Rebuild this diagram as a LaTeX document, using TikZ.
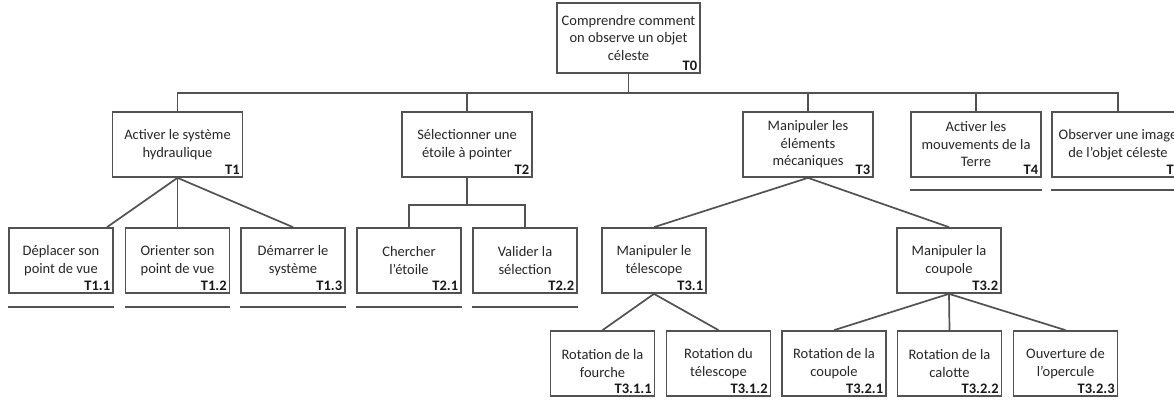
\documentclass[tikz,border=0pt]{standalone}
\usepackage{fontspec}
\setmainfont{Carlito}
\begin{document}
\begin{tikzpicture}[x=1pt,y=-1pt,
  line/.style={draw=black!68, line width=1.7pt},
  box/.style={line, rectangle, inner sep=0pt, align=center, font=\fontsize{14.5}{17.5}\selectfont, text=black!85},
  big/.style={box, minimum width=130pt, minimum height=65pt},
  small/.style={box, minimum width=104pt, minimum height=65pt},
  lab/.style={anchor=south east, inner sep=0pt, font=\fontsize{14.5}{17.5}\selectfont\bfseries, text=black!90},
  uline/.style={line}
]
\useasboundingbox (0,0) rectangle (1174,407);
\clip (0,0) rectangle (1174,407);
% level 0
\node[box, minimum width=143pt, minimum height=70pt] (t0) at (628.5,38) {Comprendre comment\\on observe un objet\\céleste};
% level 1
\node[big] (t1) at (177.5,144.5) {Activer le système\\hydraulique};
\node[big] (t2) at (467,144.5) {Sélectionner une\\étoile à pointer};
\node[big] (t3) at (808,144.5) {Manipuler les\\éléments\\mécaniques};
\node[big] (t4) at (976,144.5) {Activer les\\mouvements de la\\Terre};
\node[big, minimum width=132pt] (t5) at (1118,144.5) {Observer une image\\de l’objet céleste};
% level 2
\node[small] (t11) at (61,260.5) {Déplacer son\\point de vue};
\node[small] (t12) at (177.5,260.5) {Orienter son\\point de vue};
\node[small] (t13) at (293,260.5) {Démarrer le\\système};
\node[small] (t21) at (409,260.5) {Chercher\\l’étoile};
\node[small] (t22) at (525,260.5) {Valider la\\sélection};
\node[small] (t31) at (654,260.5) {Manipuler le\\télescope};
\node[small] (t32) at (949,260.5) {Manipuler la\\coupole};
% level 3
\node[small] (t311) at (602.5,363.5) {Rotation de la\\fourche};
\node[small] (t312) at (718.5,363.5) {Rotation du\\télescope};
\node[small] (t321) at (834,363.5) {Rotation de la\\coupole};
\node[small] (t322) at (949.5,363.5) {Rotation de la\\calotte};
\node[small] (t323) at (1065.5,363.5) {Ouverture de\\l’opercule};
% labels
\foreach \n/\t in {t0/T0,t1/T1,t2/T2,t3/T3,t4/T4,t5/T5,t11/T1.1,t12/T1.2,t13/T1.3,t21/T2.1,t22/T2.2,t31/T3.1,t32/T3.2,t311/T3.1.1,t312/T3.1.2,t321/T3.2.1,t322/T3.2.2,t323/T3.2.3}
  \node[lab] (l\n) at ([xshift=-3.5pt,yshift=3pt]\n.south east) {\t};
% connectors
\foreach \c in {t1,t2,t3,t4,t5}
  \draw[line] (t0.south) -- ++(0,19) -| (\c.north);
\draw[line] (t1.south) -- ([xshift=46pt]t11.north);
\draw[line] (t1.south) -- (t12.north);
\draw[line] (t1.south) -- (t13.north);
\foreach \c in {t21,t22}
  \draw[line] (t2.south) -- ++(0,27) -| (\c.north);
\draw[line] (t3.south) -- (t31.north);
\draw[line] (t3.south) -- (t32.north);
\draw[line] (t31.south) -- (t311.north);
\draw[line] (t31.south) -- (t312.north);
\draw[line] (t32.south) -- (t321.north);
\draw[line] (t32.south) -- (t322.north);
\draw[line] (t32.south) -- (t323.north);
% underlines of leaf tasks
\foreach \n in {t11,t12,t13,t21,t22}
  \draw[uline] ([yshift=-13pt]\n.south west) -- ([yshift=-13pt]\n.south east);
\foreach \n in {t4,t5}
  \draw[uline] ([yshift=-12pt]\n.south west) -- ([yshift=-12pt]\n.south east);
\end{tikzpicture}
\end{document}
